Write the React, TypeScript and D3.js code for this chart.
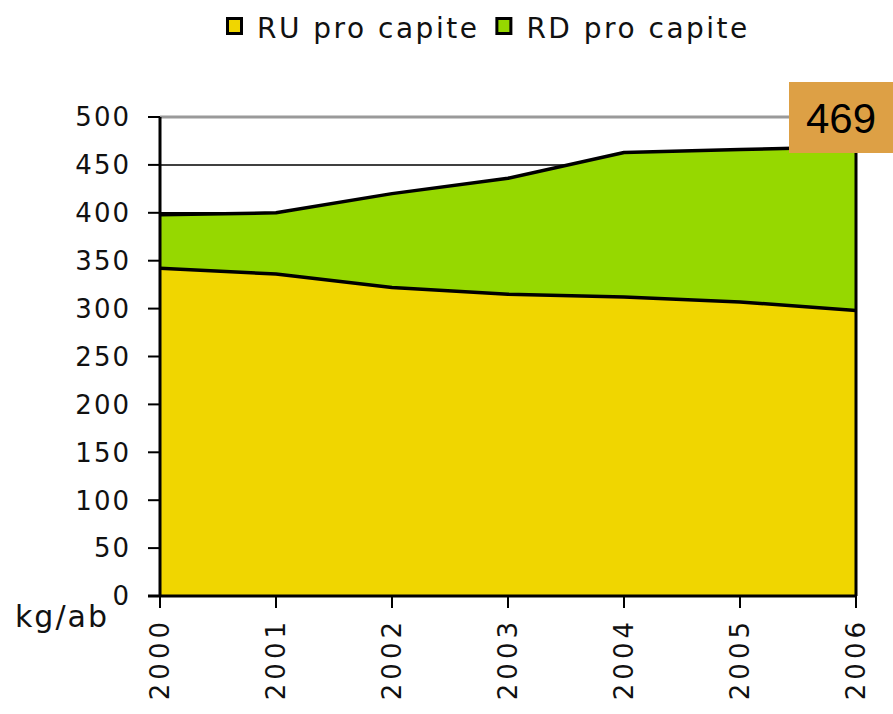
import { useEffect, useRef } from 'react';
import * as d3 from 'd3';

const years = [2000, 2001, 2002, 2003, 2004, 2005, 2006];
const ruProCapite = [342, 336, 322, 315, 312, 307, 298];
const rdProCapite = [56, 64, 98, 121, 151, 159, 171];
const yTicks = [0, 50, 100, 150, 200, 250, 300, 350, 400, 450, 500];
const seriesNames = ['RU pro capite', 'RD pro capite'];
const seriesColors = ['#f0d600', '#96d800'];
const highlightValue = '469';

export default function App() {
  const svgRef = useRef<SVGSVGElement>(null);

  useEffect(() => {
    document.body.style.margin = '0';
    const svg = d3.select(svgRef.current);
    svg.selectAll('*').remove();

    const W = 893, H = 714;
    const margin = { top: 117, right: 37, bottom: 118, left: 160 };
    const innerW = W - margin.left - margin.right;
    const innerH = H - margin.top - margin.bottom;
    const font = "'DejaVu Sans', Tahoma, sans-serif";

    svg.attr('width', W).attr('height', H).style('display', 'block').style('background', '#fff');

    const g = svg.append('g').attr('transform', `translate(${margin.left},${margin.top})`);

    const x = d3.scaleLinear().domain(d3.extent(years) as [number, number]).range([0, innerW]);
    const y = d3.scaleLinear().domain([0, 500]).range([innerH, 0]);

    // Grid lines (mostly hidden by the areas)
    yTicks.filter(v => v > 0 && v < 500).forEach(v => {
      g.append('line')
        .attr('x1', 0).attr('x2', innerW)
        .attr('y1', y(v)).attr('y2', y(v))
        .attr('stroke', '#000').attr('stroke-width', 1.5);
    });
    g.append('line')
      .attr('x1', 0).attr('x2', innerW)
      .attr('y1', y(500)).attr('y2', y(500))
      .attr('stroke', '#9a9a9a').attr('stroke-width', 3);

    // Stacked areas
    const rows = years.map((yr, i) => ({ year: yr, ru: ruProCapite[i], rd: rdProCapite[i] }));
    const stack = d3.stack<typeof rows[number]>().keys(['ru', 'rd']);
    const layers = stack(rows);

    const area = d3.area<d3.SeriesPoint<typeof rows[number]>>()
      .x(d => x(d.data.year))
      .y0(d => y(d[0]))
      .y1(d => y(d[1]));
    const topLine = d3.line<d3.SeriesPoint<typeof rows[number]>>()
      .x(d => x(d.data.year))
      .y(d => y(d[1]));

    layers.forEach((layer, i) => {
      g.append('path')
        .datum(layer)
        .attr('d', area)
        .attr('fill', seriesColors[i]);
    });
    layers.forEach(layer => {
      g.append('path')
        .datum(layer)
        .attr('d', topLine)
        .attr('fill', 'none')
        .attr('stroke', '#000')
        .attr('stroke-width', 3.5)
        .attr('stroke-linejoin', 'round');
    });

    // Right edge of the area
    const lastTotal = ruProCapite[ruProCapite.length - 1] + rdProCapite[rdProCapite.length - 1];
    g.append('line')
      .attr('x1', innerW).attr('x2', innerW)
      .attr('y1', y(lastTotal)).attr('y2', innerH)
      .attr('stroke', '#000').attr('stroke-width', 3);

    // Y axis
    g.append('line')
      .attr('x1', 0).attr('x2', 0).attr('y1', 0).attr('y2', innerH)
      .attr('stroke', '#000').attr('stroke-width', 3);
    yTicks.forEach(v => {
      g.append('line')
        .attr('x1', -12).attr('x2', 0)
        .attr('y1', y(v)).attr('y2', y(v))
        .attr('stroke', '#000').attr('stroke-width', 2);
      g.append('text')
        .attr('x', -29).attr('y', y(v))
        .attr('dy', '0.36em')
        .attr('text-anchor', 'end')
        .attr('font-family', font).attr('font-size', 26)
        .attr('letter-spacing', 2)
        .attr('fill', '#111')
        .text(v);
    });

    // X axis
    g.append('line')
      .attr('x1', -12).attr('x2', innerW).attr('y1', innerH).attr('y2', innerH)
      .attr('stroke', '#000').attr('stroke-width', 3);
    years.forEach(yr => {
      g.append('line')
        .attr('x1', x(yr)).attr('x2', x(yr))
        .attr('y1', innerH).attr('y2', innerH + 12)
        .attr('stroke', '#000').attr('stroke-width', 2);
      g.append('text')
        .attr('transform', `translate(${x(yr)},${innerH + 22}) rotate(-90)`)
        .attr('dy', '0.36em')
        .attr('text-anchor', 'end')
        .attr('font-family', font).attr('font-size', 26)
        .attr('letter-spacing', 4)
        .attr('fill', '#111')
        .text(yr);
    });

    // Unit label
    svg.append('text')
      .attr('x', 15).attr('y', 627)
      .attr('font-family', font).attr('font-size', 30)
      .attr('letter-spacing', 2)
      .attr('fill', '#111')
      .text('kg/ab');

    // Legend
    const legend = svg.append('g').attr('transform', 'translate(226,17)');
    let lx = 0;
    seriesNames.forEach((name, i) => {
      legend.append('rect')
        .attr('x', lx + 1.5).attr('y', 1.5)
        .attr('width', 14).attr('height', 15)
        .attr('fill', seriesColors[i])
        .attr('stroke', '#000').attr('stroke-width', 3);
      const t = legend.append('text')
        .attr('x', lx + 31).attr('y', 21)
        .attr('font-family', font).attr('font-size', 28)
        .attr('letter-spacing', 2.5)
        .attr('fill', '#111')
        .text(name);
      const w = (t.node() as SVGTextElement).getComputedTextLength();
      lx += 31 + w + 16;
    });

    // Highlight box
    svg.append('rect')
      .attr('x', 789).attr('y', 82)
      .attr('width', 104).attr('height', 71)
      .attr('fill', '#dda045');
    svg.append('text')
      .attr('x', 841).attr('y', 118)
      .attr('dy', '0.36em')
      .attr('text-anchor', 'middle')
      .attr('font-family', "'Liberation Sans', Arial, sans-serif")
      .attr('font-size', 42)
      .attr('fill', '#000')
      .text(highlightValue);
  }, []);

  return <svg ref={svgRef} role="img" aria-label="RU e RD pro capite 2000-2006" />;
}
